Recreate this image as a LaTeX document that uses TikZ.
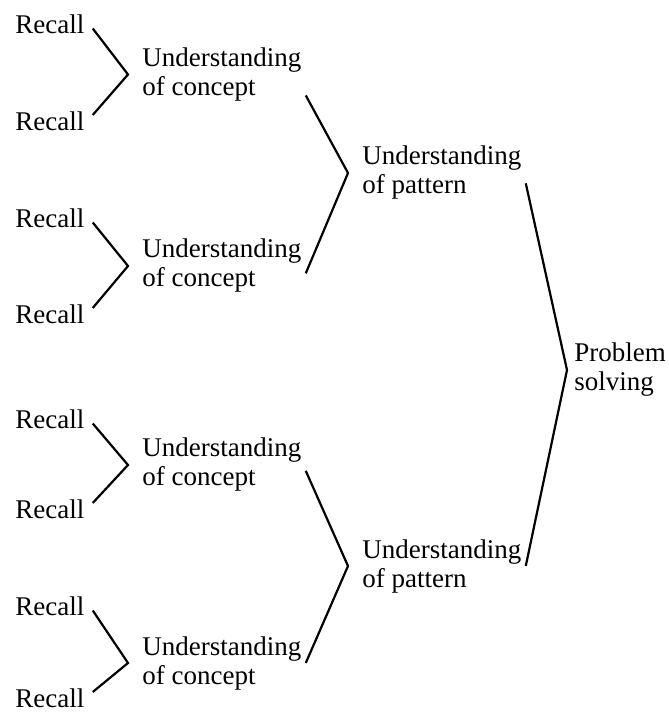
\documentclass[tikz,border=0pt]{standalone}
\usepackage{fontspec}
\setmainfont{Liberation Serif}

\begin{document}
\begin{tikzpicture}[
    x=0.5pt, y=-0.5pt,
    recall/.style={anchor=west, inner xsep=4pt, inner ysep=2pt, font=\fontsize{13.5}{14.5}\selectfont},
    idea/.style={anchor=west, inner sep=2pt, align=left, font=\fontsize{13.5}{14.5}\selectfont},
    branch/.style={line width=1.1pt}
]
    \useasboundingbox (0,0) rectangle (669,712);

    % recall
    \node[recall] (r1) at (7,24) {Recall};
    \node[recall] (r2) at (7,121) {Recall};
    \node[recall] (r3) at (7,218) {Recall};
    \node[recall] (r4) at (7,314) {Recall};
    \node[recall] (r5) at (7,419) {Recall};
    \node[recall] (r6) at (7,509) {Recall};
    \node[recall] (r7) at (7,606) {Recall};
    \node[recall] (r8) at (7,698) {Recall};

    % concepts
    \node[idea] (c1) at (138,74.5) {Understanding\\of concept};
    \node[idea] (c2) at (138,266) {Understanding\\of concept};
    \node[idea] (c3) at (138,465) {Understanding\\of concept};
    \node[idea] (c4) at (138,663) {Understanding\\of concept};

    % patterns
    \node[idea] (p1) at (358,173) {Understanding\\of pattern};
    \node[idea] (p2) at (358,566) {Understanding\\of pattern};

    \node[idea] (solve) at (570,370) {Problem\\solving};

    \draw[branch] (r1.-6) -- ([xshift=-5pt]c1.west) -- (r2.8);
    \draw[branch] (r3.-6) -- ([xshift=-5pt]c2.west) -- (r4.8);
    \draw[branch] (r5.-6) -- ([xshift=-5pt]c3.west) -- (r6.8);
    \draw[branch] (r7.-6) -- ([xshift=-5pt]c4.west) -- (r8.8);

    \draw[branch] (c1.-14) -- ([xshift=-5pt]p1.west) -- (c2.-5);
    \draw[branch] (c3.-4) -- ([xshift=-5pt]p2.west) -- (c4.east);

    \draw[branch] (p1.-7) -- ([xshift=-1.5pt]solve.west) -- (p2.east);
\end{tikzpicture}
\end{document}
